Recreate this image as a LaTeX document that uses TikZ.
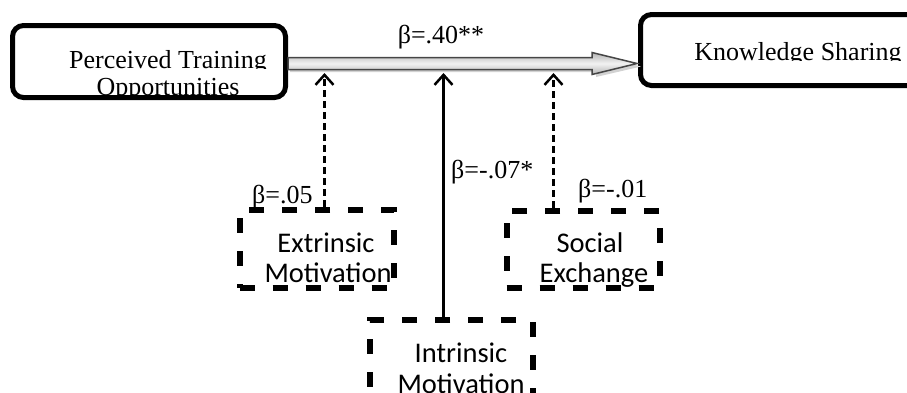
\documentclass[tikz,border=0pt]{standalone}
\usepackage{fontspec}
\setmainfont{Liberation Serif}
\newfontfamily\calibrifont{Carlito}
\usetikzlibrary{arrows.meta,calc}
\tikzset{
  rbox/.style={draw=black, line width=5pt, rounded corners=11pt, inner sep=0pt, fill=white},
  dbox/.style={draw=black, line width=6pt, dash pattern=on 15pt off 18pt, inner sep=0pt},
  sertext/.style={inner sep=0pt, font=\fontsize{26}{26}\selectfont},
  santext/.style={inner sep=0pt, font=\calibrifont\fontsize{28.5}{28.5}\selectfont},
  modarrow/.style={line width=2.5pt, -{Straight Barb[length=10pt,width=18pt]}},
  dmod/.style={modarrow, dash pattern=on 7pt off 4pt},
}
\begin{document}
\begin{tikzpicture}[x=1pt,y=-1pt]
\useasboundingbox (0,0) rectangle (907,392);
% main boxes
\node[rbox, minimum width=273pt, minimum height=72pt] (ptb) at (149,61.5) {};
\node[rbox, minimum width=279.5pt, minimum height=71pt] (ks) at (780.25,50) {};
\begin{scope}
  \clip (0,0) rectangle (907,68.5);
  \node[sertext, anchor=base] (t1) at (168,68.5) {Perceived Training};
\end{scope}
\begin{scope}
  \clip (0,0) rectangle (907,97);
  \node[sertext, anchor=base] (t2) at (168,95) {Opportunities};
\end{scope}
\begin{scope}
  \clip (0,0) rectangle (907,60);
  \node[sertext, anchor=base] (t3) at (798,60) {Knowledge Sharing};
\end{scope}
% main gray arrow
\coordinate (a0) at ($(ptb.east)+(0pt,-2pt)$);
\fill[gray!35] ($(a0)+(2,3)$) ++(0,-5.5) -- ++(306,0) -- ++(0,-5) -- ++(45,10.5) -- ++(-45,10.5) -- ++(0,-5) -- ++(-306,0) -- cycle;
\path[draw=gray!55!black, line width=1.5pt, top color=gray!60, bottom color=gray!60, middle color=gray!10]
  (a0) ++(0,-6) -- ++(304,0) -- ++(0,-5) -- ++(45,11) -- ++(-45,11) -- ++(0,-5) -- ++(-304,0) -- cycle;
\node[sertext, anchor=base] (b1) at (441,43) {β=.40**};
% moderator boxes
\node[dbox, minimum width=154.5pt, minimum height=78.5pt] (ext) at (316.75,248.75) {};
\node[dbox, minimum width=153pt, minimum height=77.5pt] (soc) at (583,249.25) {};
\node[dbox, minimum width=162.5pt, minimum height=85pt] (int) at (451.25,362.5) {};
\node[santext, anchor=base] at (326,252) {Extrinsic};
\node[santext, anchor=base] at (328,282) {Motivation};
\node[santext, anchor=base] at (590,252) {Social};
\node[santext, anchor=base] at (594,282) {Exchange};
\node[santext, anchor=base] at (461,362) {Intrinsic};
\node[santext, anchor=base] at (461,393) {Motivation};
% moderator arrows
\coordinate (m1) at (324.5,73);
\coordinate (m2) at (443.5,73);
\coordinate (m3) at (553.5,73);
\draw[dmod] ([xshift=7.75pt]ext.north) -- (m1);
\draw[modarrow] ([xshift=-7.75pt]int.north) -- (m2);
\draw[dmod] ([xshift=-29.5pt]soc.north) -- (m3);
\node[sertext, anchor=base west] (b2) at (252,203) {β=.05};
\node[sertext, anchor=base west] (b3) at (451,178) {β=-.07*};
\node[sertext, anchor=base west] (b4) at (578,197) {β=-.01};
\end{tikzpicture}
\end{document}
